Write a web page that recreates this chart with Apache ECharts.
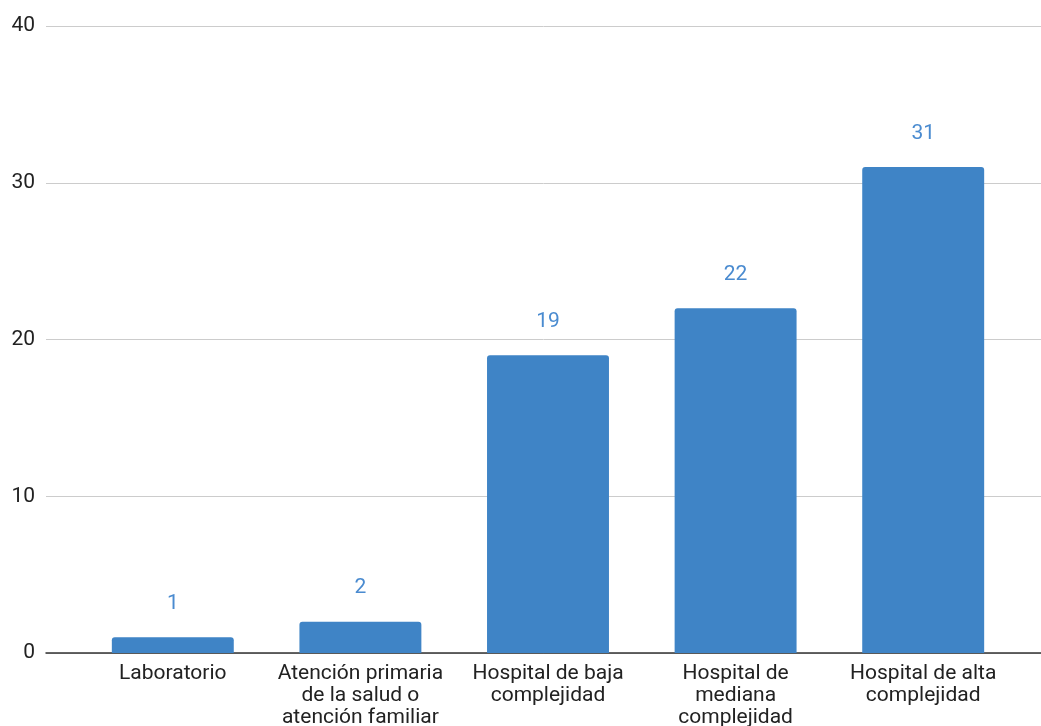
<!DOCTYPE html>
<html>
<head>
<meta charset="utf-8">
<script src="https://cdn.jsdelivr.net/npm/echarts@6/dist/echarts.min.js"></script>
<style>
  html, body { margin: 0; padding: 0; background: #fff; }
  #chart { width: 1041px; height: 726px; }
</style>
</head>
<body>
<div id="chart"></div>
<script>
// Categories and counts per care level
const categories = [
  'Laboratorio',
  'Atención primaria\nde la salud o\natención familiar',
  'Hospital de baja\ncomplejidad',
  'Hospital de\nmediana\ncomplejidad',
  'Hospital de alta\ncomplejidad'
];
const counts = [1, 2, 19, 22, 31];
const yTicks = { min: 0, max: 40, interval: 10 };

const FONT = 'Roboto, "Noto Sans", sans-serif';
const BAR_COLOR = '#3f84c6';
const LABEL_COLOR = '#4a8bd0';

const chart = echarts.init(document.getElementById('chart'), null, { renderer: 'canvas' });

chart.setOption({
  animation: false,
  textStyle: { fontFamily: FONT },
  grid: [
    // background grid: value axis, gridlines and baseline across full width
    { left: 46, right: 0, top: 26, bottom: 73, containLabel: false, outerBoundsMode: 'none' },
    // plotting grid for the bars and category labels
    { left: 79, right: 24, top: 26, bottom: 73, containLabel: false, outerBoundsMode: 'none' }
  ],
  xAxis: [
    {
      gridIndex: 0, type: 'category', data: categories,
      axisLine: { show: true, lineStyle: { color: '#333', width: 1.5 } },
      axisTick: { show: false }, axisLabel: { show: false }, splitLine: { show: false }
    },
    {
      gridIndex: 1, type: 'category', data: categories,
      axisLine: { show: false }, axisTick: { show: false },
      axisLabel: {
        show: true, interval: 0, margin: 10,
        color: '#222', fontSize: 21, lineHeight: 22, fontFamily: FONT, align: 'center'
      }
    }
  ],
  yAxis: [
    {
      gridIndex: 0, type: 'value', min: yTicks.min, max: yTicks.max, interval: yTicks.interval,
      axisLine: { show: false }, axisTick: { show: false },
      axisLabel: { color: '#222', fontSize: 21, margin: 11, fontFamily: FONT },
      splitLine: { show: true, lineStyle: { color: '#cccccc', width: 1 } }
    },
    {
      gridIndex: 1, type: 'value', min: yTicks.min, max: yTicks.max, interval: yTicks.interval,
      show: false, splitLine: { show: false }
    }
  ],
  series: [
    {
      type: 'bar',
      xAxisIndex: 1, yAxisIndex: 1,
      data: counts,
      barWidth: '65%',
      itemStyle: { color: BAR_COLOR, borderRadius: [3, 3, 0, 0] },
      label: {
        show: true, position: 'top', distance: 23,
        color: LABEL_COLOR, fontSize: 21, fontFamily: FONT
      }
    }
  ]
});
</script>
</body>
</html>
